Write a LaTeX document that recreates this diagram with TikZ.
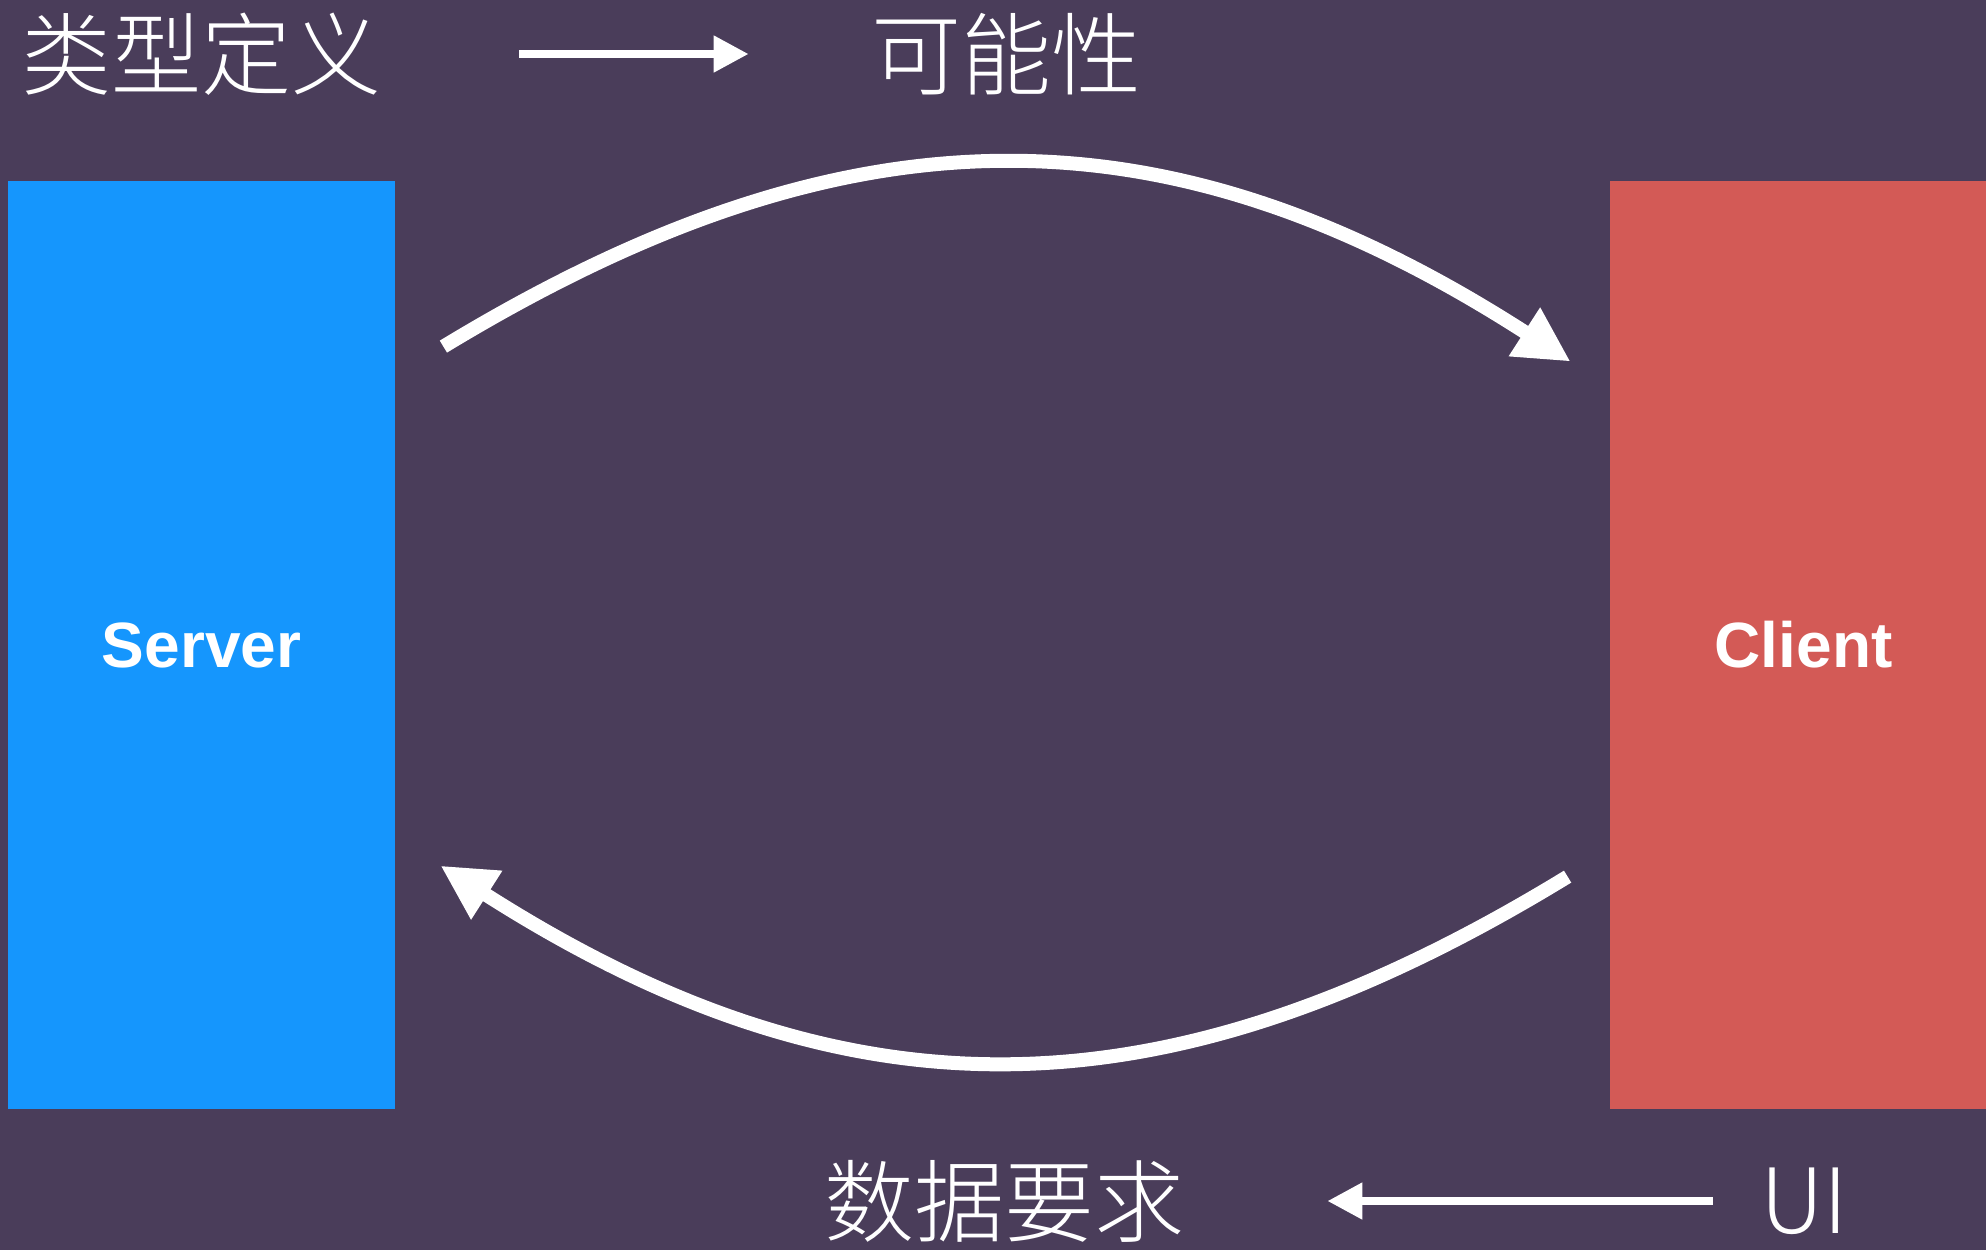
\documentclass[tikz,border=0pt]{standalone}
\usepackage{fontspec}
\usetikzlibrary{arrows.meta,calc}
\IfFontExistsTF{Noto Sans CJK SC Light}{\newfontfamily\cjk{Noto Sans CJK SC Light}}{\newfontfamily\cjk{Noto Sans CJK SC}}
\newfontfamily\lab{Liberation Sans}
\definecolor{bg}{RGB}{74,61,90}
\definecolor{srv}{RGB}{21,150,253}
\definecolor{cli}{RGB}{211,90,86}
\tikzset{
 box/.style={rectangle, minimum width=193.5pt, minimum height=464pt, inner sep=0pt},
 boxlabel/.style={text=white, font=\lab\bfseries\fontsize{32}{38}\selectfont},
 cjklabel/.style={text=white, inner sep=0pt, font=\cjk\fontsize{45}{54}\selectfont},
 straightarr/.style={draw=white, line width=4pt, -{Triangle[length=17.5pt,width=17.5pt]}},
 curvearr/.style={draw=white, line width=7pt, -{Triangle[length=27.5pt,width=27pt]}},
}
\begin{document}
\begin{tikzpicture}[x=0.5pt,y=-0.5pt]
\useasboundingbox (0,0) rectangle (1986,1250);
\fill[bg] (0,0) rectangle (1986,1250);
\clip (0,0) rectangle (1986,1250);
\node[box, fill=srv, boxlabel] (server) at (201.5,645) {Server};
\node[box, fill=cli, boxlabel] (client) at (1803.5,645) {Client};
\node[cjklabel] (t1) at (201,54) {类型定义};
\node[cjklabel] (t2) at (1006,54) {可能性};
\node[cjklabel] (b1) at (1004,1201) {数据要求};
\node[cjklabel] (b2) at (1804,1201) {UI};
\draw[straightarr, shorten <=69pt, shorten >=61pt] (t1) -- (t2);
\draw[straightarr, shorten <=23.5pt, shorten >=71.5pt] (b2) -- (b1);
\draw[curvearr] ($(server.north east)+(48,166)$) .. controls (848,101) and (1166,101) .. ($(client.north west)+(-39,181)$);
\draw[curvearr] ($(client.north west)+(-42,696)$) .. controls (1163,1124) and (845,1124) .. ($(server.north east)+(45,685)$);
\end{tikzpicture}
\end{document}
